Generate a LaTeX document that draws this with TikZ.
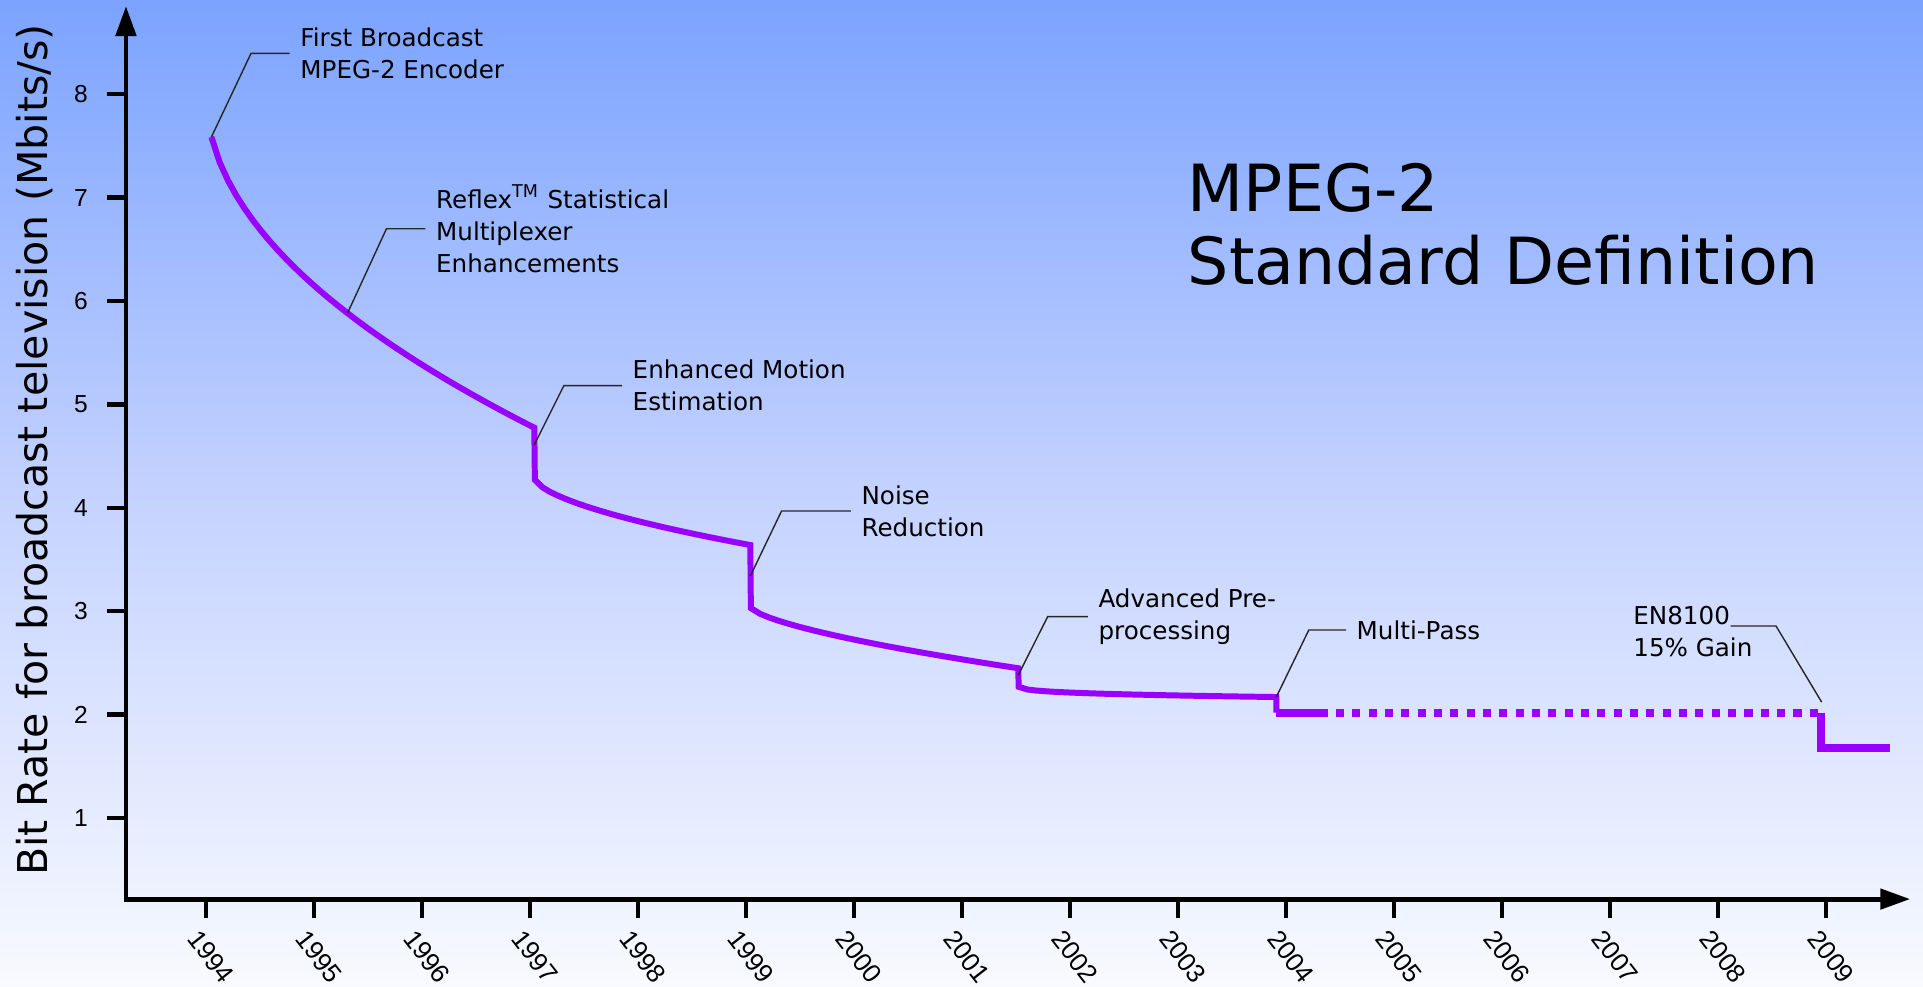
\documentclass[tikz,border=0pt]{standalone}
\usepackage{fontspec}
\setmainfont{DejaVu Sans}
\newfontfamily\numfont{Liberation Sans}
\usetikzlibrary{arrows.meta,positioning}
\definecolor{bgtop}{RGB}{123,163,255}
\definecolor{bgmid}{RGB}{196,210,255}
\definecolor{bgbot}{RGB}{248,250,255}
\definecolor{ratecol}{RGB}{153,0,255}
\tikzset{
  axisline/.style={line width=1.4pt, {Triangle[length=0.3cm,width=0.2cm]}-{Triangle[length=0.3cm,width=0.2cm]}},
  axtick/.style={line width=1.3pt},
  rateline/.style={draw=ratecol, line width=1.7pt},
  ratethick/.style={draw=ratecol, line width=2.3pt},
  ratedots/.style={draw=ratecol, line width=2.3pt, dash pattern=on 2.3pt off 2.35pt},
  leader/.style={draw=black!85, line width=0.4pt},
  callout/.style={font=\fontsize{7}{9.1}\selectfont, align=left, inner xsep=1mm, inner ysep=0pt},
  yearlbl/.style={font=\numfont\fontsize{7.4}{9}\selectfont, rotate=-52, anchor=north west, inner sep=0pt},
  vallbl/.style={font=\numfont\fontsize{7}{8}\selectfont, anchor=east, inner sep=0pt},
  titlelbl/.style={font=\fontsize{18.5}{22}\selectfont, anchor=base west, inner sep=0pt}
}

\begin{document}
\begin{tikzpicture}
		%%%%% START %%%%%
		\useasboundingbox (0,0) rectangle (19.23,9.86);
		\shade[top color=bgtop, bottom color=bgbot, middle color=bgmid] (0,0) rectangle (19.23,9.86);
		
		\node[titlelbl] (title) at (11.87,7.75) {MPEG-2};
		\node[titlelbl] (subtitle) at (11.87,7.015) {Standard Definition};
		
		\node[rotate=90, anchor=base, inner sep=0pt, font=\fontsize{11.7}{14}\selectfont] (ylabel) at (0.47,5.36) {Bit Rate for broadcast television (Mbits/s)};
		
		\begin{scope}[shift={(2.06,0.646)}, x=1.08cm, y=1.034cm]
		
		% axes
		\draw[axisline] (-0.741,8.853) |- (15.78,0.216);
		\foreach \v in {1,...,8}
			\draw[axtick] (-0.741,\v) -- ++(-0.19cm,0) node[vallbl, xshift=-0.17cm] (val\v) {\v};
		\foreach \yr [count=\t from 0] in {1994,...,2009}{
			\draw[axtick] (\t,0.216) -- ++(0,-0.19cm);
			\node[yearlbl] (yr\yr) at (\t-0.05,-0.055) {\yr};
		}
		
		% bit rate
		\draw[rateline] plot[domain=0.05:3.04, samples=40] (\x,{8-1.85*sqrt(\x)})
			-- plot[domain=3.045:5.04, samples=30] (\x,{4.29-0.429*(\x-3.04)^0.6})
			-- plot[domain=5.045:7.52, samples=30] (\x,{3.04-0.323*(\x-5.04)^0.666})
			-- plot[domain=7.525:9.91, samples=30] (\x,{2.29-0.094*(\x-7.52)^0.28})
			-- (9.91,2.02);
		\draw[ratethick] (9.91,2.02) -- (10.31,2.02);
		\draw[ratedots] (10.31,2.02) -- (14.95,2.02);
		\draw[ratethick] (14.95,2.02) -- (14.95,1.68) -- (15.59,1.68);
		
		% callouts
		\coordinate (p1) at (0.05,7.586);
		\coordinate (b1) at (0.417,8.395);
		\node[callout, right=0.387cm of b1] (first) {First Broadcast\\MPEG-2 Encoder};
		\draw[leader] (p1) -- (b1) -- (first.west);
		
		\coordinate (p2) at (1.31,5.882);
		\coordinate (b2) at (1.671,6.699);
		\node[callout, right=0.39cm of b2] (reflex) {Reflex\textsuperscript{TM} Statistical\\Multiplexer\\Enhancements};
		\draw[leader] (p2) -- (b2) -- (reflex.west);
		
		\coordinate (p3) at (3.04,4.61);
		\coordinate (b3) at (3.313,5.181);
		\node[callout, right=0.582cm of b3] (motion) {Enhanced Motion\\Estimation};
		\draw[leader] (p3) -- (b3) -- (motion.west);
		
		\coordinate (p4) at (5.04,3.34);
		\coordinate (b4) at (5.329,3.969);
		\node[callout, right=0.693cm of b4] (noise) {Noise\\Reduction};
		\draw[leader] (p4) -- (b4) -- (noise.west);
		
		\coordinate (p5) at (7.52,2.38);
		\coordinate (b5) at (7.793,2.947);
		\node[callout, right=0.402cm of b5] (prepro) {Advanced Pre-\\processing};
		\draw[leader] (p5) -- (b5) -- (prepro.west);
		
		\coordinate (p6) at (9.91,2.17);
		\coordinate (b6) at (10.211,2.818);
		\node[callout, right=0.372cm of b6] (multipass) {Multi-Pass};
		\draw[leader] (p6) -- (b6) -- (multipass.west);
		
		\coordinate (p7) at (14.96,2.12);
		\coordinate (b7) at (14.537,2.857);
		\node[callout, inner xsep=0pt, left=0.454cm of b7, anchor=south east] (en) {EN8100};
		\node[callout, inner xsep=0pt, anchor=base west] (gain) at ([yshift=-0.313cm]en.base west) {15\% Gain};
		\draw[leader] (p7) -- (b7) -- (en.south east);
		
		\end{scope}
		%%%%% END %%%%%
\end{tikzpicture}
\end{document}
